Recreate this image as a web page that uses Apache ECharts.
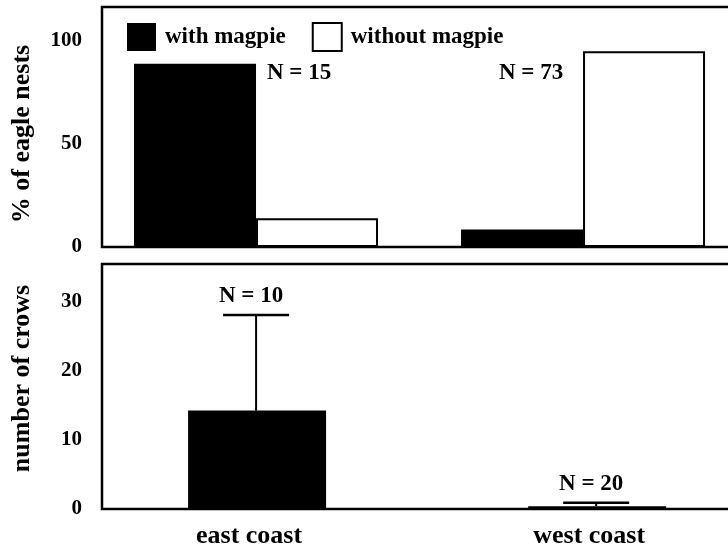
<!DOCTYPE html>
<html><head><meta charset="utf-8">
<script src="https://cdn.jsdelivr.net/npm/echarts@6/dist/echarts.min.js"></script>
<style>html,body{margin:0;padding:0;background:#fff}#c{width:728px;height:550px}</style>
</head><body><div id="c"></div>
<script>
const categories = ['east coast', 'west coast'];
const seriesNames = ['with magpie', 'without magpie'];
const withMagpie = [89, 8.5];
const withoutMagpie = [14, 95];
const nestN = ['N = 15', 'N = 73'];
const crows = [14.2, 0.4];
const crowsUpper = [28, 0.9];
const crowsN = ['N = 10', 'N = 20'];
const nestTicks = [0, 50, 100];
const crowTicks = [0, 10, 20, 30];

const FONT = 'Liberation Serif';
const chart = echarts.init(document.getElementById('c'), null, {renderer: 'canvas'});

const idx = categories.map((c, i) => i);

chart.setOption({
  animation: false,
  backgroundColor: '#fff',
  textStyle: {fontFamily: FONT, fontWeight: 'bold', color: '#000'},
  legend: {
    left: 122, top: 17, itemWidth: 29, itemHeight: 28, itemGap: 26,
    icon: 'rect',
    data: seriesNames,
    textStyle: {fontFamily: FONT, fontWeight: 'bold', fontSize: 23, color: '#000', padding: [0, 0, 0, 4]}
  },
  grid: [
    {left: 102, top: 7, right: -12, height: 240, show: true, borderColor: '#000', borderWidth: 2.5, backgroundColor: 'transparent', containLabel: false, outerBoundsMode: 'none'},
    {left: 102, top: 264, right: -12, height: 245, show: true, borderColor: '#000', borderWidth: 2.5, backgroundColor: 'transparent', containLabel: false, outerBoundsMode: 'none'}
  ],
  xAxis: [
    {gridIndex: 0, type: 'value', min: -0.471, max: 1.480, axisLine: {show: false}, axisTick: {show: false}, axisLabel: {show: false}, splitLine: {show: false}},
    {gridIndex: 1, type: 'value', min: -0.456, max: 1.420, axisLine: {show: false}, axisTick: {show: false}, splitLine: {show: false},
     axisLabel: {show: true, customValues: idx, formatter: v => categories[Math.round(v)], fontFamily: FONT, fontWeight: 'bold', fontSize: 26, color: '#000', margin: 14, padding: [0, 16, 0, 0]}}
  ],
  yAxis: [
    {gridIndex: 0, type: 'value', min: 0, max: 116.5, axisLine: {show: false}, axisTick: {show: false}, splitLine: {show: false},
     axisLabel: {customValues: nestTicks, fontFamily: FONT, fontWeight: 'bold', fontSize: 21, color: '#000', margin: 20},
     name: '% of eagle nests', nameLocation: 'middle', nameRotate: 90, nameGap: 67,
     nameTextStyle: {fontFamily: FONT, fontWeight: 'bold', fontSize: 26, color: '#000', padding: [0, 14, 0, 0]}},
    {gridIndex: 1, type: 'value', min: 0, max: 35.35, axisLine: {show: false}, axisTick: {show: false}, splitLine: {show: false},
     axisLabel: {customValues: crowTicks, fontFamily: FONT, fontWeight: 'bold', fontSize: 21, color: '#000', margin: 20, padding: [6, 0, 0, 0]},
     name: 'number of crows', nameLocation: 'middle', nameRotate: 90, nameGap: 67,
     nameTextStyle: {fontFamily: FONT, fontWeight: 'bold', fontSize: 26, color: '#000', padding: [0, 0, 0, 16]}}
  ],
  series: [
    {
      name: seriesNames[0], type: 'bar', xAxisIndex: 0, yAxisIndex: 0,
      barWidth: 122, barGap: '0%',
      itemStyle: {color: '#000', borderColor: '#000', borderWidth: 0},
      data: withMagpie.map((v, i) => [i, v])
    },
    {
      name: seriesNames[1], type: 'bar', xAxisIndex: 0, yAxisIndex: 0,
      barWidth: 122, barGap: '0%',
      itemStyle: {color: '#fff', borderColor: '#000', borderWidth: 2},
      data: withoutMagpie.map((v, i) => [i, v])
    },
    {
      name: 'nestN', type: 'custom', xAxisIndex: 0, yAxisIndex: 0, z: 6,
      encode: {x: 0, y: 1},
      data: idx.map(i => [i, 84.5]),
      renderItem: function (params, api) {
        const p = api.coord([api.value(0), api.value(1)]);
        const dx = params.dataIndex === 0 ? 43 : -52;
        return {type: 'text', x: p[0] + dx, y: p[1],
          style: {text: nestN[params.dataIndex], font: 'bold 23px "' + FONT + '"', fill: '#000', align: 'center', verticalAlign: 'middle'}};
      }
    },
    {
      name: 'crows', type: 'bar', xAxisIndex: 1, yAxisIndex: 1,
      barWidth: 138,
      itemStyle: {color: '#000'},
      data: crows.map((v, i) => [i, v])
    },
    {
      name: 'crowsErr', type: 'custom', xAxisIndex: 1, yAxisIndex: 1, z: 5,
      encode: {x: 0, y: [1, 2]},
      data: crows.map((v, i) => [i, v, crowsUpper[i]]),
      renderItem: function (params, api) {
        const i = api.value(0);
        const p0 = api.coord([i, api.value(1)]);
        const p1 = api.coord([i, api.value(2)]);
        const cx = p1[0] - 1;
        const half = 33;
        return {
          type: 'group',
          children: [
            {type: 'line', shape: {x1: cx, y1: p0[1], x2: cx, y2: p1[1]}, style: {stroke: '#000', lineWidth: 2}},
            {type: 'line', shape: {x1: cx - half, y1: p1[1], x2: cx + half, y2: p1[1]}, style: {stroke: '#000', lineWidth: 2.5}},
            {type: 'text', x: cx - 5, y: p1[1] - 19, style: {text: crowsN[params.dataIndex], font: 'bold 23px "' + FONT + '"', fill: '#000', align: 'center', verticalAlign: 'middle'}}
          ]
        };
      }
    }
  ]
});
</script>
</body></html>
